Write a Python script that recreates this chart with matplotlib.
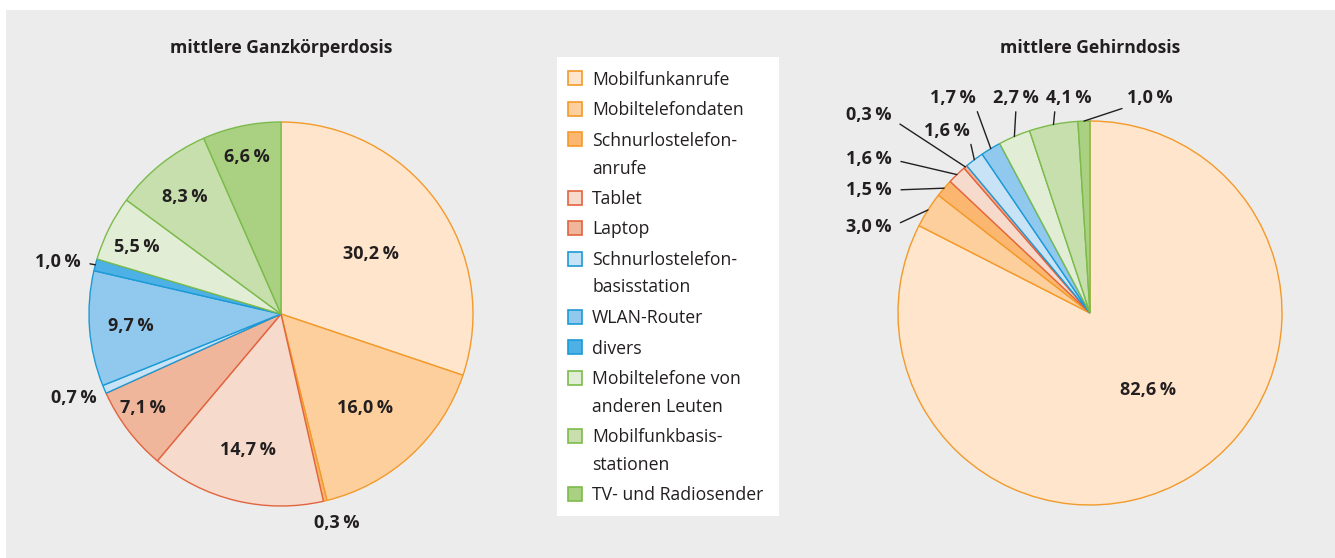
import numpy as np
import matplotlib.pyplot as plt
from matplotlib.patches import Rectangle

plt.rcParams['font.family'] = ['Open Sans', 'DejaVu Sans']

# categories (legend order = clockwise order in the pies)
categories = [
    "Mobilfunkanrufe",
    "Mobiltelefondaten",
    "Schnurlostelefon-\nanrufe",
    "Tablet",
    "Laptop",
    "Schnurlostelefon-\nbasisstation",
    "WLAN-Router",
    "divers",
    "Mobiltelefone von\nanderen Leuten",
    "Mobilfunkbasis-\nstationen",
    "TV- und Radiosender",
]
fill_colors = ["#fee5cb", "#fdcf9d", "#fbb670", "#f6dacb", "#efb69c",
               "#c9e3f6", "#91c9ee", "#4db1e6", "#e1edd5", "#c6dfad", "#aad082"]
edge_colors = ["#f39a2a", "#f39a2a", "#f39a2a", "#e2643f", "#e2643f",
               "#1c9ad6", "#1c9ad6", "#1c9ad6", "#7cbb4b", "#7cbb4b", "#7cbb4b"]

# percentages
body_dose = [30.2, 16.0, 0.3, 14.7, 7.1, 0.7, 9.7, 1.0, 5.5, 8.3, 6.6]
brain_dose = [82.6, 3.0, 1.5, 1.6, 0.3, 1.6, 1.7, 0.0, 2.7, 4.1, 1.0]

titles = ["mittlere Ganzkörperdosis", "mittlere Gehirndosis"]

W, H = 1335, 558
TXT = "#231f20"

# label layout: (x, y) in pie radii, leader start on the text box (relpos) or None
body_layout = [(0.47, 0.31, None), (0.44, -0.49, None), (0.29, -1.09, None),
               (-0.17, -0.71, None), (-0.72, -0.49, None), (-1.08, -0.44, None),
               (-0.78, -0.06, None), (-1.16, 0.27, (1, 0.5)), (-0.75, 0.35, None),
               (-0.50, 0.61, None), (-0.18, 0.82, None)]
brain_layout = [(0.30, -0.40, None), (-1.15, 0.45, (1, 0.5)), (-1.15, 0.64, (1, 0.5)),
                (-1.15, 0.80, (1, 0.5)), (-1.15, 1.03, (1, 0.3)), (-0.745, 0.95, (1, 0)),
                (-0.715, 1.12, (1, 0)), None, (-0.385, 1.12, (0.5, 0)),
                (-0.11, 1.12, (0.2, 0)), (0.31, 1.12, (0, 0))]


def fmt(v):
    return f"{v:.1f}".replace(".", ",") + "\u2009%"


def px_axes(cx, cy, r):
    return [(cx - r) / W, (H - cy - r) / H, 2 * r / W, 2 * r / H]


fig = plt.figure(figsize=(W / 100, H / 100), dpi=100)
fig.patch.set_facecolor("white")
fig.patches.append(Rectangle((6 / W, 0), 1, 1 - 10 / H, transform=fig.transFigure,
                             facecolor="#ebeceb", edgecolor="none", zorder=-10))


def draw_pie(values, layout, centre, title):
    ax = fig.add_axes(px_axes(centre[0], centre[1], 192))
    idx = [i for i, v in enumerate(values) if v > 0]
    vals = [values[i] for i in idx]
    wedges, _ = ax.pie(vals, colors=[fill_colors[i] for i in idx], startangle=90,
                       counterclock=False, radius=1,
                       wedgeprops=dict(linewidth=1.0))
    for w, i in zip(wedges, idx):
        w.set_edgecolor(edge_colors[i])
    ax.set_xlim(-1, 1)
    ax.set_ylim(-1, 1)
    for w, i in zip(wedges, idx):
        lx, ly, rel = layout[i]
        mid = np.deg2rad((w.theta1 + w.theta2) / 2)
        edge = (np.cos(mid), np.sin(mid))
        if rel is not None:
            shrink = 4.5 if rel[1] > 0.2 else 1.5
            ax.annotate(fmt(values[i]), xy=edge, xytext=(lx, ly),
                        ha="center", va="center", fontsize=13, fontweight="bold",
                        color=TXT, annotation_clip=False,
                        arrowprops=dict(arrowstyle="-", color=TXT, lw=1.0,
                                        relpos=rel, shrinkA=shrink, shrinkB=0))
        else:
            ax.text(lx, ly, fmt(values[i]), ha="center", va="center",
                    fontsize=13, fontweight="bold", color=TXT)
    fig.text(centre[0] / W, 1 - 48 / H, title, ha="center", va="center",
             fontsize=12.6, fontweight="bold", color=TXT)


draw_pie(body_dose, body_layout, (281, 314), titles[0])
draw_pie(brain_dose, brain_layout, (1090, 313), titles[1])

# legend box
lax = fig.add_axes([557 / W, (H - 516) / H, 222 / W, 459 / H])
lax.set_xlim(0, 222)
lax.set_ylim(459, 0)
lax.set_facecolor("white")
for s in lax.spines.values():
    s.set_visible(False)
lax.set_xticks([])
lax.set_yticks([])

y = 22
for name, fc, ec in zip(categories, fill_colors, edge_colors):
    lax.add_patch(Rectangle((10.5, y - 7.5), 14, 14, facecolor=fc, edgecolor=ec, lw=1.2))
    for k, line in enumerate(name.split("\n")):
        lax.text(35, y + k * 27.5 + 6, line, ha="left", va="baseline",
                 fontsize=12.7, color=TXT)
    y += 27.5 * (name.count("\n")) + 30.5

fig.savefig("out.png", dpi=100)
